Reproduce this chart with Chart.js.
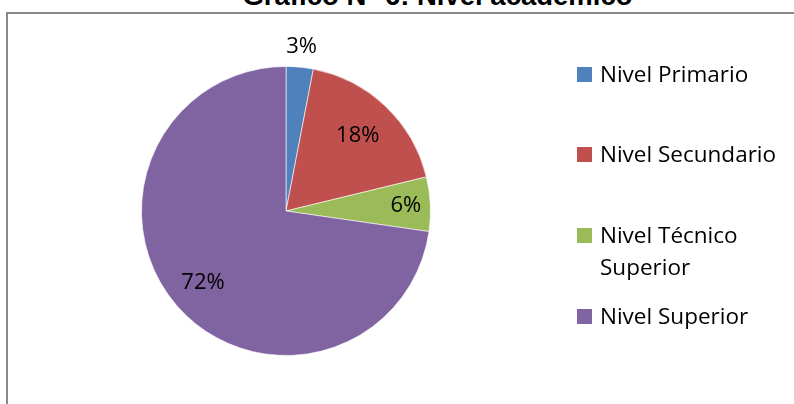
<!DOCTYPE html>
<html>
<head>
<meta charset="utf-8">
<script src="https://cdn.jsdelivr.net/npm/chart.js@4/dist/chart.umd.min.js"></script>
<style>
  html, body { margin: 0; padding: 0; background: #fff; }
  #wrap { position: relative; width: 794px; height: 404px; overflow: hidden; background: #fff; }
  #frame { position: absolute; left: 6px; top: 12px; right: -10px; bottom: -10px;
           border-top: 2px solid #8a8a8a; border-left: 2px solid #8a8a8a; }
  #title { position: absolute; left: 0; width: 875px; text-align: center; top: -20px;
           font: bold 27.5px "Liberation Sans", Arial, sans-serif; color: #000; white-space: nowrap; }
  #chart { position: absolute; left: 0; top: 0; }
  #legend { position: absolute; left: 577px; top: 0; font-family: "Open Sans", sans-serif;
            font-size: 22.5px; color: #000; }
  .item { position: absolute; left: 0; width: 215px; }
  .box { position: absolute; left: 0; top: 0; width: 15px; height: 15px; }
  .txt { position: absolute; left: 23px; top: -9px; line-height: 32px; width: 200px; }
</style>
</head>
<body>
<div id="wrap">
  <div id="title">Gráfico N° 6: Nivel académico</div>
  <div id="frame"></div>
  <canvas id="chart" width="794" height="404"></canvas>
  <div id="legend"></div>
</div>
<script>
// Nivel académico: porcentaje por nivel
const categories = ['Nivel Primario', 'Nivel Secundario', 'Nivel Técnico Superior', 'Nivel Superior'];
const legendLines = [['Nivel Primario'], ['Nivel Secundario'], ['Nivel Técnico', 'Superior'], ['Nivel Superior']];
const percentages = [3, 18, 6, 72];
const sliceColors = ['#4F81BD', '#C0504D', '#9BBB59', '#8064A2'];

// Radial placement of each percentage label (fraction of the radius)
const labelRadius = [1.14, 0.72, 0.83, 0.76];

const percentLabels = {
  id: 'percentLabels',
  afterDatasetsDraw(chart) {
    const ctx = chart.ctx;
    const meta = chart.getDatasetMeta(0);
    ctx.save();
    ctx.font = '22px "Open Sans", sans-serif';
    ctx.fillStyle = '#000';
    ctx.textAlign = 'center';
    ctx.textBaseline = 'middle';
    meta.data.forEach((arc, i) => {
      const p = arc.getProps(['x', 'y', 'startAngle', 'endAngle', 'outerRadius'], true);
      const mid = (p.startAngle + p.endAngle) / 2;
      const r = p.outerRadius * labelRadius[i];
      ctx.fillText(percentages[i] + '%', p.x + Math.cos(mid) * r, p.y + Math.sin(mid) * r);
    });
    ctx.restore();
  }
};

new Chart(document.getElementById('chart'), {
  type: 'pie',
  data: {
    labels: categories,
    datasets: [{
      data: percentages,
      backgroundColor: sliceColors,
      borderColor: 'rgba(255,255,255,0.6)',
      borderWidth: 1
    }]
  },
  options: {
    responsive: false,
    animation: false,
    layout: { padding: { left: 141, right: 363, top: 66, bottom: 48 } },
    plugins: { legend: { display: false }, tooltip: { enabled: false } }
  },
  plugins: [percentLabels]
});

// Legend on the right, one entry per category
const legendTops = [67, 147, 228, 309];
const legend = document.getElementById('legend');
categories.forEach((c, i) => {
  const item = document.createElement('div');
  item.className = 'item';
  item.style.top = legendTops[i] + 'px';
  const box = document.createElement('div');
  box.className = 'box';
  box.style.background = sliceColors[i];
  const txt = document.createElement('div');
  txt.className = 'txt';
  txt.innerHTML = legendLines[i].join('<br>');
  item.appendChild(box);
  item.appendChild(txt);
  legend.appendChild(item);
});
</script>
</body>
</html>
